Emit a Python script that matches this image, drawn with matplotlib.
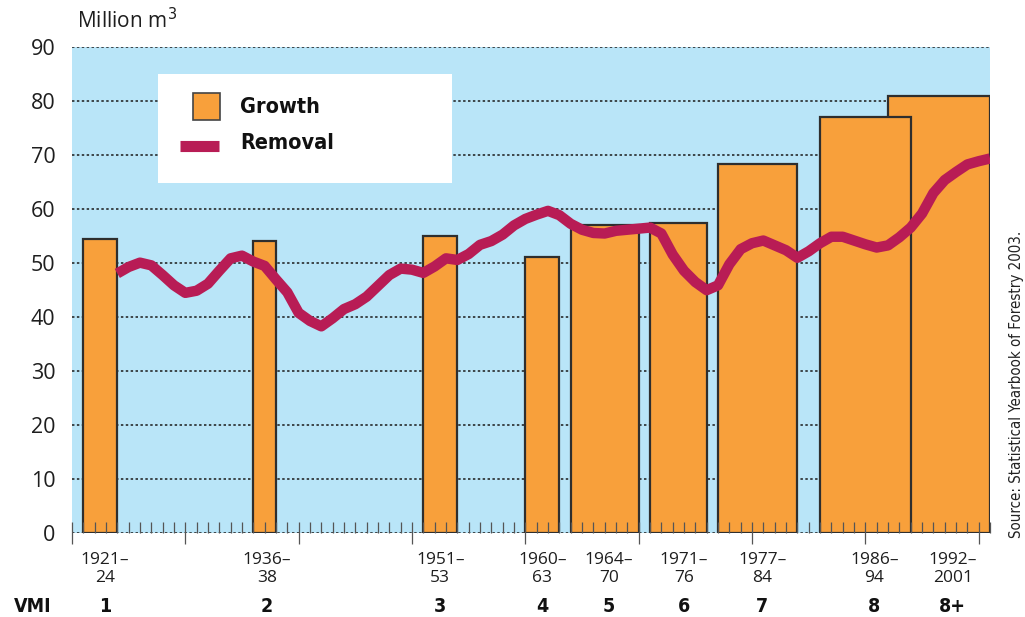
import numpy as np
from matplotlib import pyplot as plt
from matplotlib.patches import Rectangle
from matplotlib.lines import Line2D
from matplotlib import font_manager

plt.rcParams['font.family'] = ['Open Sans', 'DejaVu Sans']

# growth per inventory (VMI), bars span start..end year
periods     = ['1921–\n24', '1936–\n38', '1951–\n53', '1960–\n63', '1964–\n70',
               '1971–\n76', '1977–\n84', '1986–\n94', '1992–\n2001']
vmi         = ['1', '2', '3', '4', '5', '6', '7', '8', '8+']
bar_start   = [1921, 1936, 1951, 1960, 1964, 1971, 1977, 1986, 1992]
bar_end     = [1924, 1938, 1954, 1963, 1970, 1976, 1984, 1994, 2001]
growth      = [54.4, 54.2, 55.1, 51.2, 57.1, 57.4, 68.3, 77.0, 81.0]

# annual removal 1924-2001
removal_years = np.arange(1924, 2002)
removal = [48.1, 49.3, 50.1, 49.6, 47.8, 45.9, 44.5, 44.9, 46.2, 48.6,
           50.9, 51.4, 50.3, 49.5, 47.0, 44.6, 40.8, 39.3, 38.3, 39.8,
           41.5, 42.4, 43.8, 45.8, 47.8, 49.0, 48.8, 48.2, 49.4, 50.9,
           50.6, 51.7, 53.4, 54.1, 55.3, 57.0, 58.2, 59.0, 59.7, 58.9,
           57.3, 56.2, 55.6, 55.5, 56.0, 56.2, 56.4, 56.6, 55.5, 51.6,
           48.6, 46.5, 45.0, 45.9, 49.8, 52.6, 53.7, 54.2, 53.3, 52.4,
           51.0, 52.2, 53.7, 54.9, 54.9, 54.2, 53.5, 52.9, 53.3, 54.8,
           56.6, 59.2, 63.0, 65.4, 66.9, 68.3, 68.9, 69.4]

# where the period labels sit (years), they are a bit right of bar centres
label_x = [1922.9, 1937.2, 1952.5, 1961.5, 1967.4, 1974.0, 1980.9, 1990.8, 1997.7]

ORANGE = '#F8A03B'
CRIMSON = '#B81C55'
SKY = '#B9E5F8'
EDGE = '#2E2E2E'

# a narrow face for the bold labels, if one is around
names = {f.name for f in font_manager.fontManager.ttflist}
narrow = [n for n in ('Liberation Sans Narrow', 'DejaVu Sans Condensed') if n in names]
COND = narrow + ['DejaVu Sans']
has_narrow = bool(narrow)

fig = plt.figure(figsize=(10.25, 6.17), dpi=100)
ax = fig.add_axes([0.0702, 0.1361, 0.8957, 0.7872])
ax.set_facecolor(SKY)
ax.set_xlim(1920, 2001)
ax.set_ylim(0, 90)
for s in ax.spines.values():
    s.set_visible(False)

# dotted gridlines, behind the bars
for yv in range(0, 91, 10):
    ax.axhline(yv, color='#1a1a1a', lw=1.1, ls=(0, (1.6, 1.6)), zorder=0.5)

# bars (later inventories first so earlier ones sit on top)
for i in reversed(range(len(growth))):
    ax.bar(bar_start[i], growth[i], width=bar_end[i] - bar_start[i], align='edge',
           color=ORANGE, edgecolor=EDGE, linewidth=1.6, zorder=1)

ax.plot(removal_years, removal, color=CRIMSON, lw=7.5, solid_joinstyle='round',
        solid_capstyle='butt', zorder=4)

# ticks: yearly minor (inside), decade major (through the axis)
ax.set_axisbelow(False)
ax.set_xticks(np.arange(1920, 2001, 10))
ax.set_xticks(np.arange(1920, 2002, 1), minor=True)
ax.tick_params(axis='x', which='major', direction='inout', length=16, width=0.9,
               color='#555555', labelbottom=False)
ax.tick_params(axis='x', which='minor', direction='in', length=8, width=0.9,
               color='#555555')
ax.set_yticks(range(0, 91, 10))
ax.tick_params(axis='y', length=0, pad=12, labelsize=15.5, labelcolor='#1e1e1e')

bold_num = 15 if has_narrow else 14
bold_leg = 17 if has_narrow else 15.5

xt = ax.get_xaxis_transform()
for lx, lab, v in zip(label_x, periods, vmi):
    ax.text(lx, -0.04, lab, transform=xt, ha='center', va='top', fontsize=12.5,
            color='#1e1e1e', linespacing=1.15)
    ax.text(lx, -0.152, v, transform=xt, ha='center', va='center', fontsize=bold_num,
            fontweight='bold', family=COND, stretch='condensed', color='#111111')
ax.text(-0.063, -0.152, 'VMI', transform=ax.transAxes, ha='left', va='center',
        fontsize=bold_num, fontweight='bold', family=COND, stretch='condensed',
        color='#111111')

ax.text(0.005, 1.03, 'Million m$^{3}$', transform=ax.transAxes, ha='left',
        va='bottom', fontsize=15, color='#1e1e1e')

# legend box
ax.add_patch(Rectangle((0.0937, 0.7206), 0.3203, 0.2244, transform=ax.transAxes,
                       facecolor='white', edgecolor='none', zorder=5))
ax.add_patch(Rectangle((0.1318, 0.8503), 0.0294, 0.0556, transform=ax.transAxes,
                       facecolor=ORANGE, edgecolor='#444444', lw=1.2, zorder=6))
ax.add_line(Line2D([0.1176, 0.1601], [0.7976, 0.7976], transform=ax.transAxes,
                   color=CRIMSON, lw=8, solid_capstyle='butt', zorder=6))
for ty, txt in ((0.877, 'Growth'), (0.803, 'Removal')):
    ax.text(0.183, ty, txt, transform=ax.transAxes, ha='left', va='center',
            fontsize=bold_leg, fontweight='bold', family=COND, stretch='condensed',
            color='#111111', zorder=6)

fig.text(0.992, 0.128, 'Source: Statistical Yearbook of Forestry 2003.', rotation=90,
         ha='center', va='bottom', fontsize=11 if has_narrow else 10.8, family=COND,
         stretch='condensed', color='#222222')

fig.savefig('out.png', dpi=100)
